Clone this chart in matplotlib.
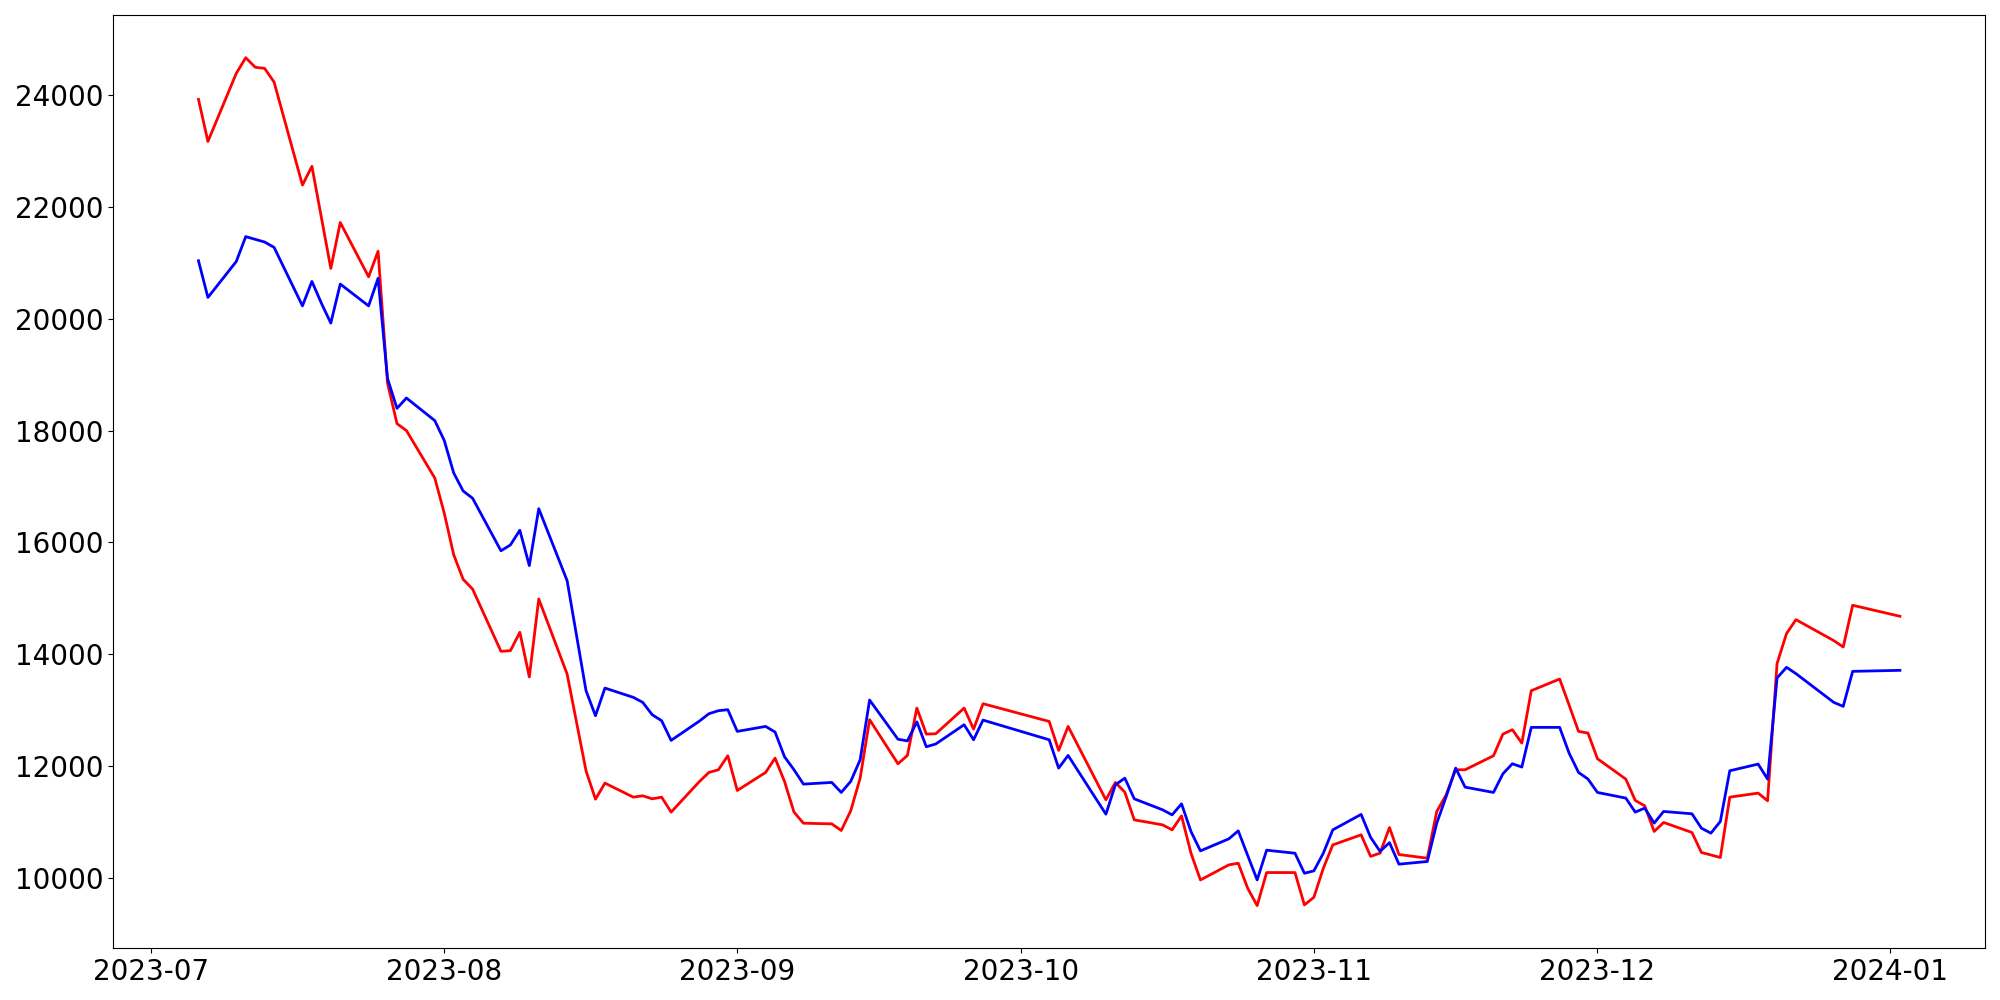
import matplotlib
matplotlib.use("Agg")
import matplotlib.pyplot as plt
import matplotlib.dates as mdates
import pandas as pd

# Korean market trading days, 2023-07-06 .. 2024-01-02
holidays = ["2023-08-15", "2023-09-28", "2023-09-29", "2023-10-02", "2023-10-03",
            "2023-10-09", "2023-12-25", "2023-12-29", "2024-01-01"]
dates = [d for d in pd.bdate_range("2023-07-06", "2024-01-02")
         if d.strftime("%Y-%m-%d") not in holidays]

red_values = [
    # Jul
    23925, 23172, 24390, 24670, 24499, 24479, 24233, 22392, 22727, 21814, 20901, 21722,
    20751, 21209, 18850, 18125, 18000, 17152,
    # Aug
    16524, 15780, 15340, 15165, 14052, 14064, 14392, 13593, 14989, 13646, 11915, 11408,
    11695, 11444, 11468, 11414, 11444, 11176, 11724, 11886, 11933, 12184,
    # Sep
    11563, 11886, 12142, 11724, 11176, 10978, 10966, 10847, 11199, 11784, 12829, 12041,
    12190, 13037, 12572, 12578, 13037, 12661, 13115,
    # Oct
    12798, 12279, 12709, 11396, 11706, 11533, 11038, 10948, 10859, 11109, 10441, 9963,
    10232, 10262, 9814, 9504, 10095, 10095, 9516,
    # Nov
    9653, 10172, 10590, 10770, 10385, 10442, 10901, 10418, 10352, 11188, 11486, 11934,
    11934, 12184, 12572, 12650, 12411, 13348, 13557, 13092, 12620, 12590,
    # Dec
    12131, 11767, 11385, 11289, 10830, 10991, 10812, 10454, 10410, 10364, 11444, 11516,
    11379, 13832, 14369, 14619, 14244, 14130, 14876,
    # Jan
    14679,
]

blue_values = [
    # Jul
    21038, 20382, 21025, 21470, 21421, 21373, 21277, 20231, 20669, 20280, 19923, 20621,
    20231, 20724, 18932, 18398, 18583, 18179,
    # Aug
    17824, 17243, 16920, 16790, 15850, 15955, 16218, 15585, 16603, 15316, 13348, 12900,
    13395, 13229, 13139, 12918, 12811, 12459, 12805, 12936, 12990, 13008,
    # Sep
    12620, 12709, 12608, 12166, 11934, 11677, 11707, 11528, 11725, 12112, 13181, 12480,
    12450, 12790, 12345, 12395, 12739, 12470, 12822,
    # Oct
    12470, 11963, 12190, 11139, 11664, 11784, 11414, 11217, 11127, 11324, 10829, 10483,
    10698, 10841, 10400, 9964, 10495, 10441, 10083,
    # Nov
    10125, 10441, 10859, 11135, 10725, 10475, 10630, 10245, 10293, 10979, 11456, 11964,
    11623, 11528, 11862, 12041, 11982, 12692, 12692, 12232, 11886, 11767,
    # Dec
    11528, 11427, 11176, 11248, 10979, 11188, 11146, 10889, 10800, 11009, 11916, 12035,
    11767, 13575, 13766, 13653, 13139, 13068, 13694,
    # Jan
    13712,
]

fig = plt.figure(figsize=(20, 10), dpi=100)
ax = fig.add_axes([0.0567, 0.052, 0.9358, 0.9327])
ax.plot(dates, red_values, color="red", linewidth=2)
ax.plot(dates, blue_values, color="blue", linewidth=2)

ax.xaxis.set_major_locator(mdates.MonthLocator())
ax.xaxis.set_major_formatter(mdates.DateFormatter("%Y-%m"))
ax.tick_params(axis="both", labelsize=20)

fig.savefig("out.png", dpi=100)
